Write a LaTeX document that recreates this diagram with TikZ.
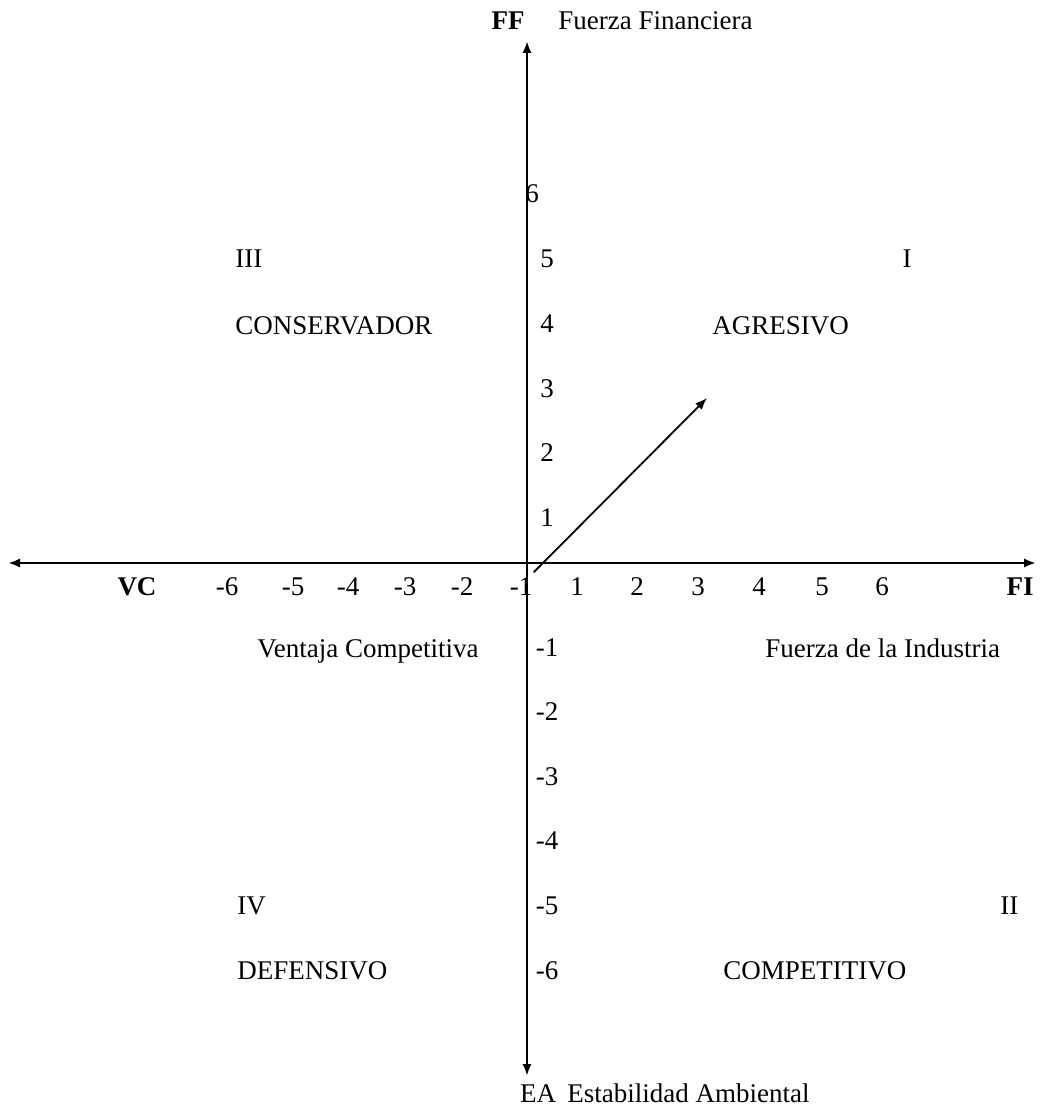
\documentclass[tikz,border=0pt]{standalone}
\usepackage{fontspec}
\setmainfont{Liberation Serif}
\usetikzlibrary{arrows.meta}

\begin{document}
\begin{tikzpicture}[x=0.5pt, y=-0.5pt, line cap=round, line join=round, >=Latex]
\tikzset{axis/.style={-{Latex[length=6pt,width=4.6pt]}, line width=1.2pt},
  vec/.style={-{Latex[length=6pt,width=4.6pt]}, line width=0.9pt},
  lbl/.style={font=\fontsize{13.5}{15}\selectfont, inner sep=0pt, text height=0.68em, text depth=0pt, yshift=-1.5pt},
  blbl/.style={lbl, font=\fontsize{13.5}{15}\selectfont\bfseries}}
\useasboundingbox (0,0) rectangle (1039,1111);

% axis ends (px)
\coordinate (O)  at (527,563);
\coordinate (Xl) at (8,563);
\coordinate (Xr) at (1036,563);
\coordinate (Yt) at (527,41);
\coordinate (Yb) at (527,1076);

% axes
\draw[axis] (O) -- (Xr);
\draw[axis] (O) -- (Xl);
\draw[axis] (O) -- (Yt);
\draw[axis] (O) -- (Yb);

% resulting vector
\coordinate (P0) at (534,572);
\coordinate (P1) at (707,398);
\draw[vec] (P0) -- (P1);

% axis names
\node[blbl] (FF) at (508,20) {FF};
\node[lbl, anchor=west] (FFtxt) at (558,20) {Fuerza Financiera};
\node[blbl] (FI) at (1020,586) {FI};
\node[blbl] (VC) at (137,586) {VC};
\node[lbl] (EA) at (538,1093) {EA};
\node[lbl, anchor=west] (EAtxt) at (567,1093) {Estabilidad Ambiental};
\node[lbl, anchor=west] (VCtxt) at (257,648) {Ventaja Competitiva};
\node[lbl, anchor=west] (FItxt) at (765,648) {Fuerza de la Industria};

% quadrants
\node[lbl, anchor=west] (q3) at (235,258) {III};
\node[lbl, anchor=west] (q3txt) at (235,325) {CONSERVADOR};
\node[lbl] (q1) at (907,258) {I};
\node[lbl, anchor=west] (q1txt) at (712,325) {AGRESIVO};
\node[lbl, anchor=west] (q4) at (237,905) {IV};
\node[lbl, anchor=west] (q4txt) at (237,970) {DEFENSIVO};
\node[lbl, anchor=west] (q2) at (1000,905) {II};
\node[lbl, anchor=west] (q2txt) at (723,970) {COMPETITIVO};

% ticks on x
\foreach \x/\v in {227/-6,293/-5,348/-4,405/-3,462/-2,521/-1,577/1,637/2,698/3,759/4,822/5,882/6}
  \node[lbl] (tx\v) at (\x,586) {\v};

% ticks on y
\node[lbl] (ty6) at (532,193) {6};
\foreach \y/\v in {258/5,323/4,388/3,452/2,517/1,647/-1,711/-2,776/-3,840/-4,905/-5,970/-6}
  \node[lbl] (ty\v) at (547,\y) {\v};
\end{tikzpicture}
\end{document}
